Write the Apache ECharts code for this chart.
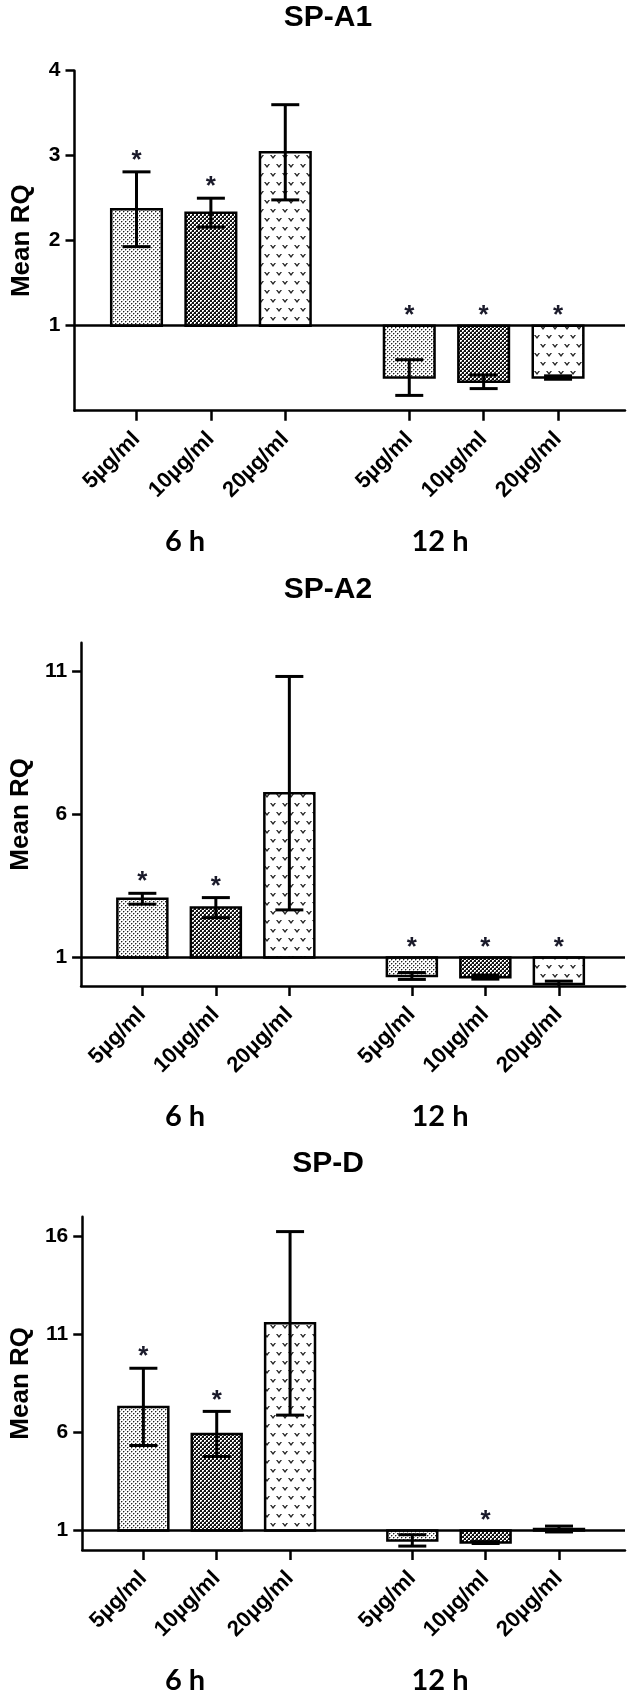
<!DOCTYPE html>
<html><head><meta charset="utf-8">
<script src="https://cdn.jsdelivr.net/npm/echarts@6/dist/echarts.min.js"></script>
<style>html,body{margin:0;padding:0;background:#fff}#c{width:627px;height:1699px}</style>
</head><body><div id="c"></div>
<script>
// ---------- data ----------
const categories = ['5µg/ml', '10µg/ml', '20µg/ml', '5µg/ml', '10µg/ml', '20µg/ml'];
const groupLabels = ['6 h', '12 h'];
const chartTitles = ['SP-A1', 'SP-A2', 'SP-D'];

const spa1Mean = [2.37, 2.33, 3.04, 0.39, 0.34, 0.39];
const spa1Err  = [0.44, 0.17, 0.56, 0.21, 0.08, 0.02];
const spa1Star = [1, 1, 0, 1, 1, 1];

const spa2Mean = [3.05, 2.74, 6.74, 0.35, 0.31, 0.07];
const spa2Err  = [0.19, 0.35, 4.08, 0.12, 0.07, 0.10];
const spa2Star = [1, 1, 0, 1, 1, 1];

const spdMean = [7.30, 5.92, 11.56, 0.49, 0.38, 1.07];
const spdErr  = [1.97, 1.15, 4.68, 0.29, 0.05, 0.15];
const spdStar = [1, 1, 0, 0, 1, 0];

const spa1Ticks = [1, 2, 3, 4];
const spa2Ticks = [1, 6, 11];
const spdTicks  = [1, 6, 11, 16];
const yMaxes = [4, 12, 17];

// ---------- layout ----------
const FONT = 'Arial';
const GRID_LEFT = 74.5, GRID_RIGHT = 2;
const grids = [{ top: 70.7, height: 340 }, { top: 642.7, height: 343.3 }, { top: 1216.7, height: 333.3 }];
const X_MAX = 22.2;
const BAR_W = 2.04;      // in x-axis units
const CAP_HALF = 14;     // px
// slot position of each category on the x scale (3 per group, gap between groups)
const slotPos = categories.map((c, i) => 2.5 + Math.floor(i / 3) * 11 + (i % 3) * 3);

// ---------- patterns ----------
function mk(w, h, draw) { const c = document.createElement('canvas'); c.width = w; c.height = h; const g = c.getContext('2d'); draw(g); return { image: c, repeat: 'repeat' }; }
const patterns = [
  mk(4, 4, g => { g.fillStyle = '#fff'; g.fillRect(0, 0, 4, 4); g.fillStyle = '#222'; g.fillRect(1, 1, 1, 1); g.fillRect(3, 3, 1, 1);
    g.fillStyle = '#aaa'; g.fillRect(2, 1, 1, 1); g.fillRect(1, 2, 1, 1); g.fillRect(0, 3, 1, 1); g.fillRect(3, 0, 1, 1); }),
  mk(4, 4, g => { g.fillStyle = '#111'; g.fillRect(0, 0, 4, 4); g.fillStyle = '#fff'; g.fillRect(0, 0, 2, 2); g.fillRect(2, 2, 2, 2);
    g.fillStyle = '#777'; g.fillRect(1, 1, 1, 1); g.fillRect(3, 3, 1, 1); }),
  mk(12, 18, g => { g.fillStyle = '#fff'; g.fillRect(0, 0, 12, 18); g.fillStyle = '#222';
    [[3, 4], [9, 13]].forEach(([x, y]) => { g.beginPath(); g.moveTo(x - 3, y - 2); g.lineTo(x - 1.5, y - 2); g.lineTo(x, y - 0.3);
      g.lineTo(x + 1.5, y - 2); g.lineTo(x + 3, y - 2); g.lineTo(x, y + 2); g.closePath(); g.fill(); }); })
];

function renderBars(params, api) {
  const x = api.value(0), m = api.value(1), e = api.value(2), star = api.value(3);
  const yMin = 0;
  const w = api.size([BAR_W, 0])[0];
  const b = api.coord([x, 1]);
  const t = api.coord([x, m]);
  const hi = api.coord([x, m + e]);
  const loV = Math.max(m - e, yMin);
  const lo = api.coord([x, loV]);
  const ch = [];
  ch.push({ type: 'rect', shape: { x: b[0] - w / 2, y: Math.min(b[1], t[1]), width: w, height: Math.abs(b[1] - t[1]) },
    style: { fill: patterns[params.dataIndex % 3], stroke: '#000', lineWidth: 2.5 } });
  ch.push({ type: 'line', shape: { x1: hi[0], y1: hi[1], x2: lo[0], y2: lo[1] }, style: { stroke: '#000', lineWidth: 3 } });
  ch.push({ type: 'line', shape: { x1: hi[0] - CAP_HALF, y1: hi[1], x2: hi[0] + CAP_HALF, y2: hi[1] }, style: { stroke: '#000', lineWidth: 3 } });
  if (m - e >= yMin) ch.push({ type: 'line', shape: { x1: lo[0] - CAP_HALF, y1: lo[1], x2: lo[0] + CAP_HALF, y2: lo[1] }, style: { stroke: '#000', lineWidth: 3 } });
  if (star) {
    const sy = m > 1 ? hi[1] - 11 : b[1] - 10;
    ch.push({ type: 'text', style: { text: '*', x: b[0], y: sy, align: 'center', verticalAlign: 'middle', fontSize: 26, fontWeight: 'bold', fontFamily: FONT, fill: '#1a1a2a' } });
  }
  return { type: 'group', children: ch };
}

const means = [spa1Mean, spa2Mean, spdMean];
const errs = [spa1Err, spa2Err, spdErr];
const stars = [spa1Star, spa2Star, spdStar];
const ticks = [spa1Ticks, spa2Ticks, spdTicks];

const option = { animation: false, backgroundColor: '#fff', title: [], grid: [], xAxis: [], yAxis: [], series: [] };
const axisLineStyle = { color: '#000', width: 2.5 };
grids.forEach((gd, k) => {
  option.grid.push({ left: GRID_LEFT, right: GRID_RIGHT, top: gd.top, height: gd.height, containLabel: false });
  option.title.push({ text: chartTitles[k], left: 328, top: gd.top - 68, textAlign: 'center', padding: 0,
    textStyle: { fontSize: 30, fontWeight: 'bold', fontFamily: FONT, color: '#000' } });
  const gb = gd.top + gd.height;
  [185, 440].forEach((cx, gi) => option.title.push({ text: groupLabels[gi], left: cx, top: gb + 116, textAlign: 'center', padding: 0,
    textStyle: { fontSize: 29, fontWeight: 'bold', fontFamily: 'Lato', color: '#000' } }));
  option.xAxis.push({ type: 'value', gridIndex: k, min: 0, max: X_MAX,
    axisLine: { show: true, onZero: false, lineStyle: axisLineStyle },
    axisTick: { show: true, customValues: slotPos, length: 10, lineStyle: axisLineStyle },
    axisLabel: { show: true, customValues: slotPos, rotate: 45, margin: 25, fontSize: 22, fontWeight: 'bold', fontFamily: FONT, color: '#000',
      formatter: v => { const i = slotPos.findIndex(p => Math.abs(p - v) < 1e-6); return i >= 0 ? categories[i] : ''; } },
    splitLine: { show: false } });
  option.yAxis.push({ type: 'value', gridIndex: k, min: 0, max: yMaxes[k],
    axisLine: { show: true, onZero: false, lineStyle: axisLineStyle },
    axisTick: { show: true, customValues: ticks[k], length: 9, lineStyle: axisLineStyle },
    axisLabel: { show: true, customValues: ticks[k], margin: 14, fontSize: 21, fontWeight: 'bold', fontFamily: FONT, color: '#000' },
    splitLine: { show: false },
    name: 'Mean RQ', nameLocation: 'middle', nameGap: 40,
    nameTextStyle: { fontSize: 26, fontWeight: 'bold', fontFamily: FONT, color: '#000' } });
  option.series.push({ type: 'custom', xAxisIndex: k, yAxisIndex: k, renderItem: renderBars, clip: false,
    encode: { x: 0, y: 1 },
    data: slotPos.map((p, i) => [p, means[k][i], errs[k][i], stars[k][i]]),
    markLine: { silent: true, symbol: ['none', 'none'], label: { show: false }, animation: false,
      lineStyle: { color: '#000', width: 2.5, type: 'solid' }, data: [{ yAxis: 1 }] } });
});

const chart = echarts.init(document.getElementById('c'), null, { renderer: 'canvas' });
chart.setOption(option);
</script>
</body></html>
